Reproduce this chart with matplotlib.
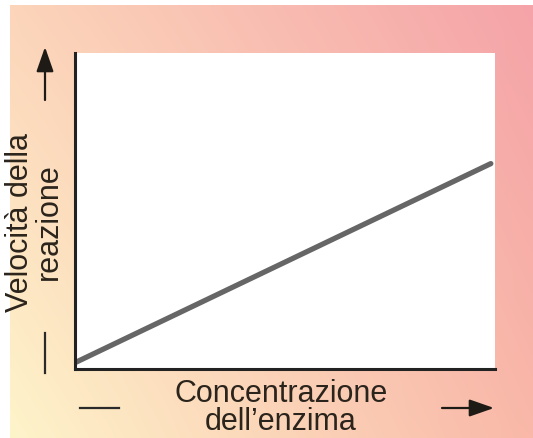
import numpy as np
import matplotlib
matplotlib.use("Agg")
import matplotlib.pyplot as plt

# Data
concentration = [0.0, 10.0]
velocity = [0.2, 6.5]
x_label = "Concentrazione\ndell\u2019enzima"
y_label = "Velocit\u00e0 della\nreazione"

W, H = 533, 438
fig = plt.figure(figsize=(W / 100, H / 100), dpi=100)
fig.patch.set_facecolor("white")

# Gradient background
bg = fig.add_axes([10 / W, 0, (W - 10) / W, (H - 5) / H])
bg.set_axis_off()
tl = np.array([252, 213, 186]) / 255
tr = np.array([245, 163, 168]) / 255
bl = np.array([254, 244, 202]) / 255
br = np.array([249, 184, 168]) / 255
n = 200
u = np.linspace(0, 1, n)[None, :, None]
v = np.linspace(0, 1, n)[:, None, None]
img = (1 - v) * ((1 - u) * tl + u * tr) + v * ((1 - u) * bl + u * br)
bg.imshow(img, aspect="auto", extent=[0, 1, 0, 1], origin="upper")

# Main axes
L, R, T, B = 75, 495, 53, 369
ax = fig.add_axes([L / W, (H - B) / H, (R - L) / W, (B - T) / H])
ax.set_facecolor("white")
ax.plot(concentration, velocity, color="#666666", lw=3.8, solid_capstyle="round")
ax.set_xlim(0, 10.1)
ax.set_ylim(0, 10)
ax.set_xticks([])
ax.set_yticks([])
for s in ["top", "right"]:
    ax.spines[s].set_visible(False)
for s in ["left", "bottom"]:
    ax.spines[s].set_color("#222222")
    ax.spines[s].set_linewidth(2.2)

font = "Liberation Sans"
txt_color = "#2b241c"
fig.text(281 / W, 1 - 408 / H, x_label, ha="center", va="center",
         fontsize=22, family=font, color=txt_color, linespacing=0.95)
fig.text(34 / W, 1 - 222 / H, y_label, ha="center", va="center",
         fontsize=22, family=font, color=txt_color, rotation=90, linespacing=0.95)

# Arrows and dashes
arrow_kw = dict(arrowstyle="-|>,head_length=1.0,head_width=0.35", color="#1e1a16", lw=1.6)
fig.add_artist(matplotlib.patches.FancyArrowPatch(
    (45 / W, 1 - 100 / H), (45 / W, 1 - 47 / H), transform=fig.transFigure,
    mutation_scale=15, shrinkA=0, shrinkB=0, **arrow_kw))
fig.add_artist(matplotlib.patches.FancyArrowPatch(
    (442 / W, 1 - 408 / H), (494 / W, 1 - 408 / H), transform=fig.transFigure,
    mutation_scale=15, shrinkA=0, shrinkB=0, **arrow_kw))
fig.add_artist(matplotlib.lines.Line2D([45 / W, 45 / W], [1 - 333 / H, 1 - 373 / H],
                                       color="#2a2a2a", lw=1.6))
fig.add_artist(matplotlib.lines.Line2D([80 / W, 119 / W], [1 - 408 / H, 1 - 408 / H],
                                       color="#2a2a2a", lw=1.6))

fig.savefig("out.png", dpi=100)
